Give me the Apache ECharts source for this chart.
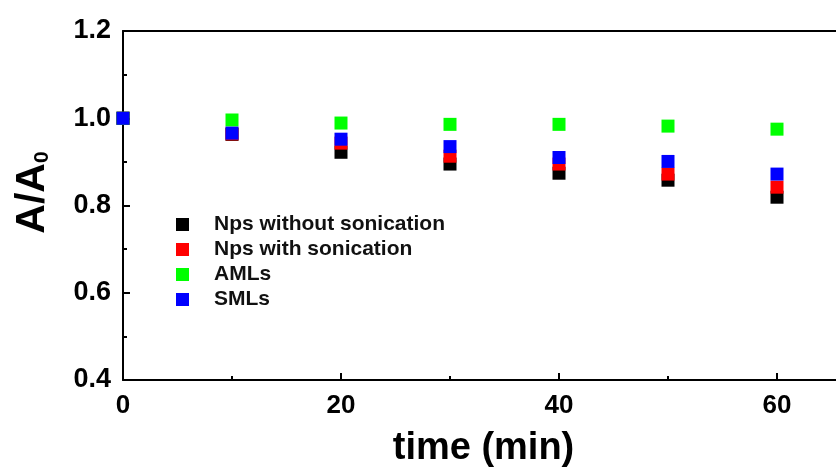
<!DOCTYPE html>
<html>
<head>
<meta charset="utf-8">
<script src="https://cdn.jsdelivr.net/npm/echarts@6/dist/echarts.min.js"></script>
<style>
  html, body { margin: 0; padding: 0; background: #fff; }
  #chart { width: 836px; height: 471px; }
</style>
</head>
<body>
<div id="chart"></div>
<script>
var times = [0, 10, 20, 30, 40, 50, 60];
var npsWithout = [1.0, 0.963, 0.922, 0.895, 0.874, 0.858, 0.819];
var npsWith = [1.0, 0.964, 0.943, 0.913, 0.895, 0.872, 0.842];
var amls = [1.0, 0.996, 0.989, 0.986, 0.986, 0.982, 0.975];
var smls = [1.0, 0.966, 0.952, 0.935, 0.910, 0.901, 0.872];

var seriesNames = ["Nps without sonication", "Nps with sonication", "AMLs", "SMLs"];
var seriesColors = ["#000000", "#ff0000", "#00ff00", "#0000ff"];
var seriesValues = [npsWithout, npsWith, amls, smls];

var font = "Liberation Sans, Arial, sans-serif";

function pairs(vals) {
  return times.map(function (t, i) { return [t, vals[i]]; });
}

var myChart = echarts.init(document.getElementById("chart"));

myChart.setOption({
  animation: false,
  textStyle: { fontFamily: font },
  legend: {
    orient: "vertical",
    left: 171,
    top: 209,
    itemWidth: 13,
    itemHeight: 13,
    itemGap: 4,
    icon: "rect",
    data: seriesNames,
    textStyle: {
      fontFamily: font,
      fontWeight: "bold",
      fontSize: 21,
      color: "#111",
      padding: [0, 0, 0, 20]
    }
  },
  grid: {
    left: 123,
    top: 31,
    right: -50,
    bottom: 91,
    outerBoundsMode: "none",
    containLabel: false
  },
  xAxis: [
    {
      type: "value",
      min: 0,
      max: 70,
      interval: 20,
      name: "time (min)",
      nameLocation: "middle",
      nameGap: 50,
      nameTextStyle: {
        fontFamily: font,
        fontWeight: "bold",
        fontSize: 38,
        color: "#000",
        padding: [0, 42, 0, 0]
      },
      axisLine: { lineStyle: { color: "#000", width: 2 } },
      axisTick: { inside: true, length: 7, lineStyle: { color: "#000", width: 2 } },
      minorTick: { show: true, splitNumber: 2, length: 4, lineStyle: { color: "#000", width: 2 } },
      splitLine: { show: false },
      axisLabel: {
        fontFamily: font,
        fontWeight: "bold",
        fontSize: 26,
        color: "#000",
        margin: 13,
        showMaxLabel: false
      }
    },
    {
      type: "value",
      position: "top",
      min: 0,
      max: 70,
      axisLine: { show: true, lineStyle: { color: "#000", width: 2 } },
      axisTick: { show: false },
      axisLabel: { show: false },
      splitLine: { show: false }
    }
  ],
  yAxis: {
    type: "value",
    min: 0.4,
    max: 1.2,
    interval: 0.2,
    name: "{a|A/A}{s|0}",
    nameLocation: "middle",
    nameRotate: 90,
    nameGap: 70,
    nameTextStyle: {
      padding: [0, 0, 0, 26],
      rich: {
        a: { fontFamily: font, fontWeight: "bold", fontSize: 41, color: "#000" },
        s: { fontFamily: font, fontWeight: "bold", fontSize: 21, color: "#000", verticalAlign: "bottom", padding: [20, 0, 0, 0] }
      }
    },
    axisLine: { show: true, lineStyle: { color: "#000", width: 2 } },
    axisTick: { inside: true, length: 7, lineStyle: { color: "#000", width: 2 } },
    minorTick: { show: true, splitNumber: 2, length: 4, lineStyle: { color: "#000", width: 2 } },
    splitLine: { show: false },
    axisLabel: {
      fontFamily: font,
      fontWeight: "bold",
      fontSize: 27,
      color: "#000",
      margin: 12,
      formatter: function (v) { return v.toFixed(1); }
    }
  },
  series: seriesNames.map(function (name, k) {
    return {
      name: name,
      type: "scatter",
      symbol: "rect",
      symbolSize: [13, 13],
      itemStyle: { color: seriesColors[k], opacity: 1 },
      data: pairs(seriesValues[k])
    };
  })
});

window.addEventListener("resize", function () {
  myChart.resize();
});
</script>
</body>
</html>
